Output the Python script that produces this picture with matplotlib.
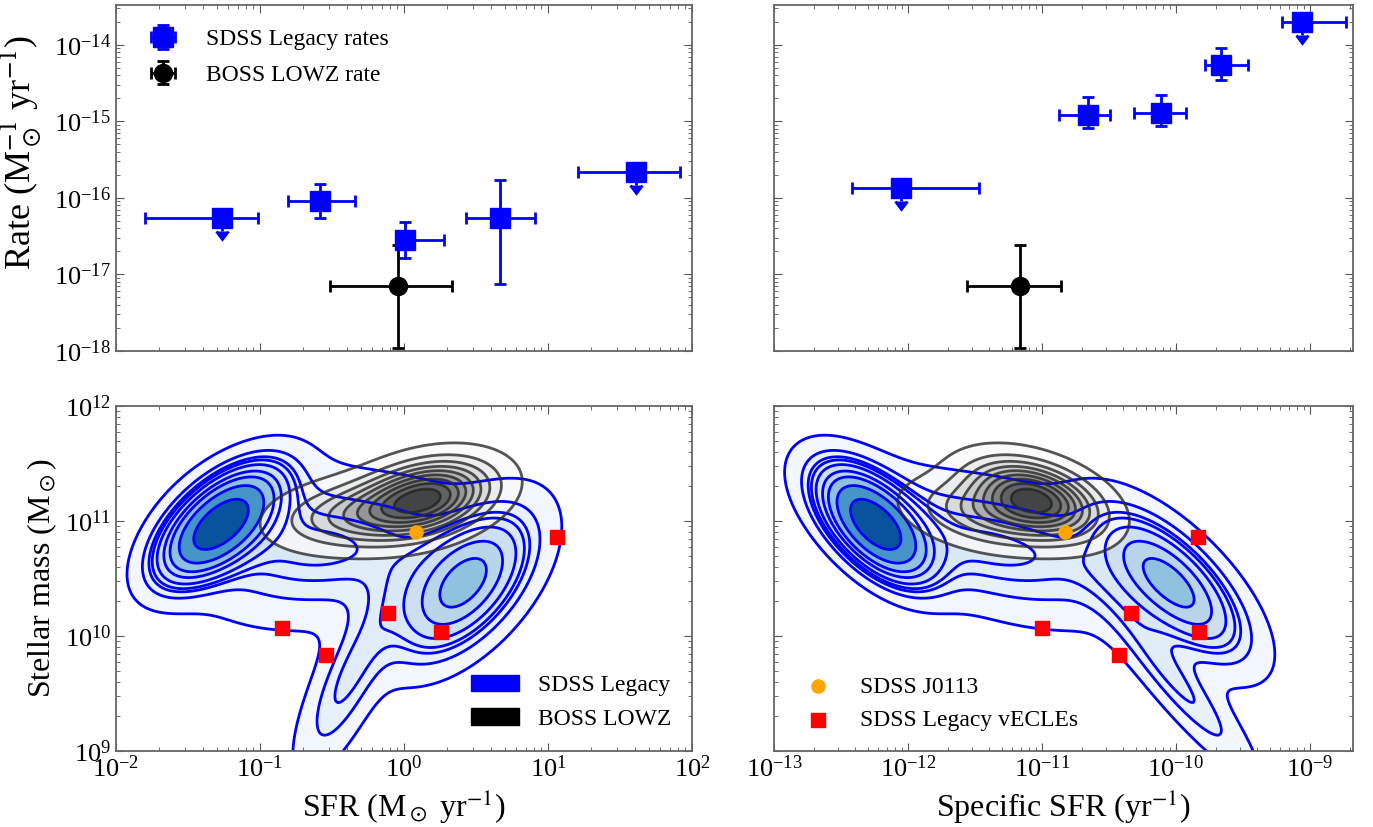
import numpy as np
import matplotlib.pyplot as plt
from matplotlib.patches import Patch

plt.rcParams['font.family'] = ['Liberation Serif', 'DejaVu Serif']
plt.rcParams['mathtext.fontset'] = 'stix'

# ---- rates (top row) ----
# SDSS Legacy rates vs SFR: bin centre, bin edges, rate, rate error range
sfr_bins = [0.0545, 0.261, 1.02, 4.64, 40.8]
sfr_bin_lo = [0.0159, 0.156, 0.90, 2.70, 16.1]
sfr_bin_hi = [0.0968, 0.457, 1.90, 8.10, 82.6]
sfr_rate = [5.5e-17, 9.1e-17, 2.8e-17, 5.5e-17, 2.19e-16]
sfr_rate_lo = [5.5e-17, 5.5e-17, 1.65e-17, 7.5e-18, 2.19e-16]
sfr_rate_hi = [5.5e-17, 1.52e-16, 4.9e-17, 1.73e-16, 2.19e-16]
sfr_uplim = [True, False, False, False, True]

# SDSS Legacy rates vs specific SFR
ssfr_bins = [8.8e-13, 2.19e-11, 7.7e-11, 2.19e-10, 8.8e-10]
ssfr_bin_lo = [3.8e-13, 1.33e-11, 4.85e-11, 1.64e-10, 6.2e-10]
ssfr_bin_hi = [3.4e-12, 3.25e-11, 1.19e-10, 3.45e-10, 1.86e-9]
ssfr_rate = [1.35e-16, 1.22e-15, 1.30e-15, 5.37e-15, 1.95e-14]
ssfr_rate_lo = [1.35e-16, 8.1e-16, 8.7e-16, 3.5e-15, 1.95e-14]
ssfr_rate_hi = [1.35e-16, 2.1e-15, 2.2e-15, 9.1e-15, 1.95e-14]
ssfr_uplim = [True, False, False, False, True]

# BOSS LOWZ rate
boss_rate = 7.1e-18
boss_rate_lo = 1.1e-18
boss_rate_hi = 2.4e-17
boss_sfr, boss_sfr_lo, boss_sfr_hi = 0.908, 0.306, 2.15
boss_ssfr, boss_ssfr_lo, boss_ssfr_hi = 6.9e-12, 2.77e-12, 1.4e-11

# ---- host galaxies (bottom row) ----
ecle_sfr = [0.143, 0.289, 0.78, 1.82, 11.5]
ecle_ssfr = [1.0e-11, 3.77e-11, 4.6e-11, 1.48e-10, 1.46e-10]
ecle_mass = [1.17e10, 6.8e9, 1.57e10, 1.09e10, 7.2e10]
j0113_sfr = 1.21
j0113_ssfr = 1.48e-11
j0113_mass = 8.1e10

# population densities in (log SFR, log M*):
# passive core, passive halo, star-forming peak, low-mass tail, green valley
sdss_cx = [-1.28, -0.95, 0.42, -0.40, -0.25]
sdss_cy = [10.97, 10.85, 10.45, 9.60, 10.75]
sdss_sx = [0.24, 0.42, 0.30, 0.22, 0.45]
sdss_sy = [0.28, 0.42, 0.40, 0.50, 0.38]
sdss_rho = [0.60, 0.10, 0.55, 0.75, 0.25]
sdss_w = [0.35, 0.15, 0.28, 0.07, 0.14]

boss_cx = [0.15, -0.35]
boss_cy = [11.20, 11.05]
boss_sx = [0.28, 0.33]
boss_sy = [0.20, 0.18]
boss_rho = [0.30, 0.20]
boss_w = [0.7, 0.3]


def gauss_mix(X, Y, cx, cy, sx, sy, rho, w):
    d = np.zeros_like(X)
    for i in range(len(cx)):
        dx = (X - cx[i]) / sx[i]
        dy = (Y - cy[i]) / sy[i]
        q = (dx**2 - 2 * rho[i] * dx * dy + dy**2) / (1 - rho[i]**2)
        d += w[i] * np.exp(-q / 2) / (2 * np.pi * sx[i] * sy[i] * np.sqrt(1 - rho[i]**2))
    return d


def iso_levels(dens, props):
    # density values enclosing the given mass proportions (like seaborn)
    vals = np.sort(dens.ravel())[::-1]
    cum = np.cumsum(vals) / vals.sum()
    idx = np.searchsorted(cum, 1 - np.asarray(props))
    return vals[np.clip(idx, 0, len(vals) - 1)]


props = np.linspace(0.05, 1, 10)
lx = np.linspace(-4.5, 3.5, 500)
ly = np.linspace(7.5, 13.5, 400)
LX, LY = np.meshgrid(lx, ly)
sdss_d = gauss_mix(LX, LY, sdss_cx, sdss_cy, sdss_sx, sdss_sy, sdss_rho, sdss_w)
boss_d = gauss_mix(LX, LY, boss_cx, boss_cy, boss_sx, boss_sy, boss_rho, boss_w)
sdss_lev = iso_levels(sdss_d, props)
boss_lev = iso_levels(boss_d, props)

# same densities seen in (log sSFR, log M*)
sx_ = np.linspace(-15.5, -7.5, 500)
SX, SY = np.meshgrid(sx_, ly)
sdss_ds = gauss_mix(SX + SY, SY, sdss_cx, sdss_cy, sdss_sx, sdss_sy, sdss_rho, sdss_w)
boss_ds = gauss_mix(SX + SY, SY, boss_cx, boss_cy, boss_sx, boss_sy, boss_rho, boss_w)

fig = plt.figure(figsize=(13.73, 8.27), dpi=100)
W, H = 1373, 827
ax_tl = fig.add_axes([116 / W, 1 - 351 / H, 576 / W, 346 / H])
ax_tr = fig.add_axes([774 / W, 1 - 351 / H, 579 / W, 346 / H])
ax_bl = fig.add_axes([116 / W, 1 - 751 / H, 576 / W, 345 / H])
ax_br = fig.add_axes([774 / W, 1 - 751 / H, 579 / W, 345 / H])

err_kw = dict(capsize=4, capthick=2, elinewidth=2)


def rate_panel(ax, x, xlo, xhi, y, ylo, yhi, uplim, bx, bxlo, bxhi):
    x = np.array(x); y = np.array(y)
    xerr = [x - np.array(xlo), np.array(xhi) - x]
    lim = np.array(uplim)
    yerr_lo = np.where(lim, 0.32 * y, y - np.array(ylo))
    yerr_hi = np.where(lim, 0.0, np.array(yhi) - y)
    ax.errorbar(x, y, xerr=xerr, yerr=[yerr_lo, yerr_hi], uplims=lim, fmt='s',
                color='blue', ms=14, label='SDSS Legacy rates', **err_kw)
    ax.errorbar([bx], [boss_rate], xerr=[[bx - bxlo], [bxhi - bx]],
                yerr=[[boss_rate - boss_rate_lo], [boss_rate_hi - boss_rate]],
                fmt='o', color='black', ms=13, label='BOSS LOWZ rate', **err_kw)
    ax.set_yscale('log')
    ax.set_ylim(1e-18, 3.3e-14)


rate_panel(ax_tl, sfr_bins, sfr_bin_lo, sfr_bin_hi, sfr_rate, sfr_rate_lo, sfr_rate_hi,
           sfr_uplim, boss_sfr, boss_sfr_lo, boss_sfr_hi)
rate_panel(ax_tr, ssfr_bins, ssfr_bin_lo, ssfr_bin_hi, ssfr_rate, ssfr_rate_lo, ssfr_rate_hi,
           ssfr_uplim, boss_ssfr, boss_ssfr_lo, boss_ssfr_hi)
ax_tl.legend(loc='upper left', frameon=False, fontsize=17, handletextpad=0.8,
             labelspacing=0.6, borderaxespad=0.6)


def density_panel(ax, gx, gy, sd, bd):
    X, Y = 10**gx, 10**gy
    ax.contourf(X, Y, sd, levels=sdss_lev, cmap='Blues')
    ax.contour(X, Y, sd, levels=sdss_lev[:-1], colors='blue', linewidths=2)
    ax.contourf(X, Y, bd, levels=boss_lev, cmap='Greys', alpha=0.78)
    ax.contour(X, Y, bd, levels=boss_lev[:-1], colors='#2a2a2a', linewidths=2, alpha=0.8)
    ax.set_yscale('log')
    ax.set_ylim(1e9, 1e12)


density_panel(ax_bl, LX, LY, sdss_d, boss_d)
density_panel(ax_br, SX, SY, sdss_ds, boss_ds)

ax_bl.scatter(ecle_sfr, ecle_mass, marker='s', s=90, color='red', zorder=5)
ax_bl.scatter([j0113_sfr], [j0113_mass], marker='o', s=90, color='orange', zorder=5)
ax_br.scatter([j0113_ssfr], [j0113_mass], marker='o', s=90, color='orange', zorder=5,
              label='SDSS J0113')
ax_br.scatter(ecle_ssfr, ecle_mass, marker='s', s=90, color='red', zorder=5,
              label='SDSS Legacy vECLEs')

ax_bl.legend(handles=[Patch(color='blue', label='SDSS Legacy'),
                      Patch(color='black', label='BOSS LOWZ')],
             loc='lower right', frameon=False, fontsize=17, handletextpad=0.8)
ax_br.legend(loc='lower left', frameon=False, fontsize=17, handletextpad=0.8,
             borderaxespad=0.45)

for ax in (ax_tl, ax_bl):
    ax.set_xscale('log')
    ax.set_xlim(1e-2, 1e2)
for ax in (ax_tr, ax_br):
    ax.set_xscale('log')
    ax.set_xlim(1e-13, 2.1e-9)

for ax in (ax_tl, ax_tr, ax_bl, ax_br):
    ax.tick_params(which='both', direction='in', top=True, right=True,
                   color='#555555', labelsize=19)
    ax.tick_params(which='major', length=6)
    ax.tick_params(which='minor', length=3)
    for sp in ax.spines.values():
        sp.set_color('#666666')
        sp.set_linewidth(1.3)

ax_tl.tick_params(labelbottom=False)
ax_tr.tick_params(labelbottom=False, labelleft=False)
ax_br.tick_params(labelleft=False)

ax_tl.set_ylabel(r'Rate (M$_\odot^{-1}$ yr$^{-1}$)', fontsize=26)
ax_tl.yaxis.set_label_coords(-0.125, 0.575)
ax_bl.set_ylabel(r'Stellar mass (M$_\odot$)', fontsize=23)
ax_bl.set_xlabel(r'SFR (M$_\odot$ yr$^{-1}$)', fontsize=23)
ax_br.set_xlabel(r'Specific SFR (yr$^{-1}$)', fontsize=23)

fig.savefig('out.png', dpi=100)
